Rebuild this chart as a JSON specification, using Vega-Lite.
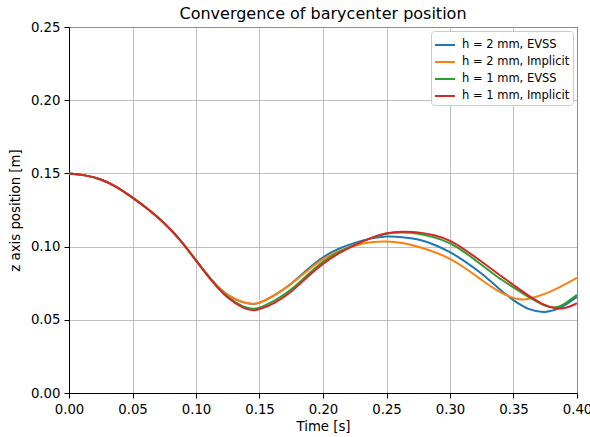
{
  "$schema": "https://vega.github.io/schema/vega-lite/v6.json",
  "width": 508,
  "height": 366,
  "autosize": {"type": "none"},
  "padding": {"left": 69, "top": 27, "right": 13, "bottom": 44},
  "title": {"text": "Convergence of barycenter position", "fontSize": 16, "fontWeight": "normal", "font": "DejaVu Sans", "color": "black", "offset": -2, "anchor": "middle"},
  "config": {
    "font": "DejaVu Sans",
    "view": {"stroke": "black", "strokeWidth": 1},
    "axis": {
      "gridColor": "#b0b0b0", "gridWidth": 0.8, "domainColor": "black", "domainWidth": 1,
      "tickColor": "black", "tickSize": 5, "tickWidth": 1, "labelColor": "black", "labelFontSize": 13.3,
      "labelFont": "DejaVu Sans", "titleFont": "DejaVu Sans", "titleFontSize": 13.3, "titleFontWeight": "normal",
      "titleColor": "black", "labelPadding": 4, "labelFlush": false
    },
    "legend": {"labelFont": "DejaVu Sans", "labelFontSize": 11.5, "labelColor": "black"}
  },
  "data": {"values": [
    {"t":0,"z":0.150,"s":"h = 2 mm, EVSS"},{"t":0.0125,"z":0.1489,"s":"h = 2 mm, EVSS"},{"t":0.025,"z":0.1463,"s":"h = 2 mm, EVSS"},{"t":0.0375,"z":0.141,"s":"h = 2 mm, EVSS"},{"t":0.05,"z":0.1335,"s":"h = 2 mm, EVSS"},{"t":0.0625,"z":0.1255,"s":"h = 2 mm, EVSS"},{"t":0.075,"z":0.1163,"s":"h = 2 mm, EVSS"},{"t":0.0875,"z":0.105,"s":"h = 2 mm, EVSS"},{"t":0.1,"z":0.0905,"s":"h = 2 mm, EVSS"},
    {"t":0.1125,"z":0.0766,"s":"h = 2 mm, EVSS"},{"t":0.125,"z":0.066,"s":"h = 2 mm, EVSS"},{"t":0.1375,"z":0.0615,"s":"h = 2 mm, EVSS"},{"t":0.145,"z":0.0606,"s":"h = 2 mm, EVSS"},{"t":0.15,"z":0.0612,"s":"h = 2 mm, EVSS"},{"t":0.1625,"z":0.0668,"s":"h = 2 mm, EVSS"},{"t":0.175,"z":0.0745,"s":"h = 2 mm, EVSS"},{"t":0.1875,"z":0.0843,"s":"h = 2 mm, EVSS"},{"t":0.2,"z":0.0932,"s":"h = 2 mm, EVSS"},{"t":0.2125,"z":0.0988,"s":"h = 2 mm, EVSS"},{"t":0.225,"z":0.1027,"s":"h = 2 mm, EVSS"},{"t":0.2375,"z":0.1057,"s":"h = 2 mm, EVSS"},{"t":0.25,"z":0.1072,"s":"h = 2 mm, EVSS"},{"t":0.2625,"z":0.1066,"s":"h = 2 mm, EVSS"},{"t":0.275,"z":0.1052,"s":"h = 2 mm, EVSS"},{"t":0.2875,"z":0.1015,"s":"h = 2 mm, EVSS"},{"t":0.3,"z":0.0966,"s":"h = 2 mm, EVSS"},{"t":0.3125,"z":0.0895,"s":"h = 2 mm, EVSS"},{"t":0.325,"z":0.0818,"s":"h = 2 mm, EVSS"},{"t":0.3375,"z":0.072,"s":"h = 2 mm, EVSS"},{"t":0.35,"z":0.063,"s":"h = 2 mm, EVSS"},{"t":0.3625,"z":0.0565,"s":"h = 2 mm, EVSS"},{"t":0.375,"z":0.0545,"s":"h = 2 mm, EVSS"},{"t":0.3875,"z":0.0578,"s":"h = 2 mm, EVSS"},{"t":0.4,"z":0.0658,"s":"h = 2 mm, EVSS"},

    {"t":0,"z":0.150,"s":"h = 2 mm, Implicit"},{"t":0.0125,"z":0.1489,"s":"h = 2 mm, Implicit"},{"t":0.025,"z":0.1463,"s":"h = 2 mm, Implicit"},{"t":0.0375,"z":0.141,"s":"h = 2 mm, Implicit"},{"t":0.05,"z":0.1335,"s":"h = 2 mm, Implicit"},{"t":0.0625,"z":0.1255,"s":"h = 2 mm, Implicit"},{"t":0.075,"z":0.1163,"s":"h = 2 mm, Implicit"},{"t":0.0875,"z":0.105,"s":"h = 2 mm, Implicit"},{"t":0.1,"z":0.0905,"s":"h = 2 mm, Implicit"},
    {"t":0.1125,"z":0.0766,"s":"h = 2 mm, Implicit"},{"t":0.125,"z":0.066,"s":"h = 2 mm, Implicit"},{"t":0.1375,"z":0.0616,"s":"h = 2 mm, Implicit"},{"t":0.145,"z":0.0607,"s":"h = 2 mm, Implicit"},{"t":0.15,"z":0.0613,"s":"h = 2 mm, Implicit"},{"t":0.1625,"z":0.067,"s":"h = 2 mm, Implicit"},{"t":0.175,"z":0.0742,"s":"h = 2 mm, Implicit"},{"t":0.1875,"z":0.0835,"s":"h = 2 mm, Implicit"},{"t":0.2,"z":0.092,"s":"h = 2 mm, Implicit"},{"t":0.2125,"z":0.0972,"s":"h = 2 mm, Implicit"},{"t":0.225,"z":0.1008,"s":"h = 2 mm, Implicit"},{"t":0.2375,"z":0.1032,"s":"h = 2 mm, Implicit"},{"t":0.25,"z":0.1038,"s":"h = 2 mm, Implicit"},{"t":0.2625,"z":0.1028,"s":"h = 2 mm, Implicit"},{"t":0.275,"z":0.1,"s":"h = 2 mm, Implicit"},{"t":0.2875,"z":0.0965,"s":"h = 2 mm, Implicit"},{"t":0.3,"z":0.092,"s":"h = 2 mm, Implicit"},{"t":0.3125,"z":0.085,"s":"h = 2 mm, Implicit"},{"t":0.325,"z":0.0772,"s":"h = 2 mm, Implicit"},{"t":0.3375,"z":0.0695,"s":"h = 2 mm, Implicit"},{"t":0.35,"z":0.0645,"s":"h = 2 mm, Implicit"},{"t":0.3575,"z":0.0636,"s":"h = 2 mm, Implicit"},{"t":0.3625,"z":0.0643,"s":"h = 2 mm, Implicit"},{"t":0.375,"z":0.0675,"s":"h = 2 mm, Implicit"},{"t":0.3875,"z":0.0728,"s":"h = 2 mm, Implicit"},{"t":0.4,"z":0.0787,"s":"h = 2 mm, Implicit"},

    {"t":0,"z":0.150,"s":"h = 1 mm, EVSS"},{"t":0.0125,"z":0.1489,"s":"h = 1 mm, EVSS"},{"t":0.025,"z":0.1463,"s":"h = 1 mm, EVSS"},{"t":0.0375,"z":0.141,"s":"h = 1 mm, EVSS"},{"t":0.05,"z":0.1335,"s":"h = 1 mm, EVSS"},{"t":0.0625,"z":0.1255,"s":"h = 1 mm, EVSS"},{"t":0.075,"z":0.1163,"s":"h = 1 mm, EVSS"},{"t":0.0875,"z":0.105,"s":"h = 1 mm, EVSS"},{"t":0.1,"z":0.0905,"s":"h = 1 mm, EVSS"},
    {"t":0.1125,"z":0.0763,"s":"h = 1 mm, EVSS"},{"t":0.125,"z":0.0648,"s":"h = 1 mm, EVSS"},{"t":0.1375,"z":0.0585,"s":"h = 1 mm, EVSS"},{"t":0.145,"z":0.0572,"s":"h = 1 mm, EVSS"},{"t":0.15,"z":0.058,"s":"h = 1 mm, EVSS"},{"t":0.1625,"z":0.063,"s":"h = 1 mm, EVSS"},{"t":0.175,"z":0.0704,"s":"h = 1 mm, EVSS"},{"t":0.1875,"z":0.0805,"s":"h = 1 mm, EVSS"},{"t":0.2,"z":0.0902,"s":"h = 1 mm, EVSS"},{"t":0.2125,"z":0.0965,"s":"h = 1 mm, EVSS"},{"t":0.225,"z":0.1015,"s":"h = 1 mm, EVSS"},{"t":0.2375,"z":0.1058,"s":"h = 1 mm, EVSS"},{"t":0.25,"z":0.1092,"s":"h = 1 mm, EVSS"},{"t":0.2625,"z":0.1098,"s":"h = 1 mm, EVSS"},{"t":0.275,"z":0.109,"s":"h = 1 mm, EVSS"},{"t":0.2875,"z":0.1065,"s":"h = 1 mm, EVSS"},{"t":0.3,"z":0.1027,"s":"h = 1 mm, EVSS"},{"t":0.3125,"z":0.0958,"s":"h = 1 mm, EVSS"},{"t":0.325,"z":0.0874,"s":"h = 1 mm, EVSS"},{"t":0.3375,"z":0.079,"s":"h = 1 mm, EVSS"},{"t":0.35,"z":0.0722,"s":"h = 1 mm, EVSS"},{"t":0.3625,"z":0.065,"s":"h = 1 mm, EVSS"},{"t":0.375,"z":0.0592,"s":"h = 1 mm, EVSS"},{"t":0.3825,"z":0.058,"s":"h = 1 mm, EVSS"},{"t":0.3875,"z":0.059,"s":"h = 1 mm, EVSS"},{"t":0.4,"z":0.067,"s":"h = 1 mm, EVSS"},

    {"t":0,"z":0.150,"s":"h = 1 mm, Implicit"},{"t":0.0125,"z":0.1489,"s":"h = 1 mm, Implicit"},{"t":0.025,"z":0.1463,"s":"h = 1 mm, Implicit"},{"t":0.0375,"z":0.141,"s":"h = 1 mm, Implicit"},{"t":0.05,"z":0.1335,"s":"h = 1 mm, Implicit"},{"t":0.0625,"z":0.1255,"s":"h = 1 mm, Implicit"},{"t":0.075,"z":0.1163,"s":"h = 1 mm, Implicit"},{"t":0.0875,"z":0.105,"s":"h = 1 mm, Implicit"},{"t":0.1,"z":0.0905,"s":"h = 1 mm, Implicit"},
    {"t":0.1125,"z":0.0762,"s":"h = 1 mm, Implicit"},{"t":0.125,"z":0.0643,"s":"h = 1 mm, Implicit"},{"t":0.1375,"z":0.0577,"s":"h = 1 mm, Implicit"},{"t":0.145,"z":0.0561,"s":"h = 1 mm, Implicit"},{"t":0.15,"z":0.057,"s":"h = 1 mm, Implicit"},{"t":0.1625,"z":0.0615,"s":"h = 1 mm, Implicit"},{"t":0.175,"z":0.0688,"s":"h = 1 mm, Implicit"},{"t":0.1875,"z":0.0792,"s":"h = 1 mm, Implicit"},{"t":0.2,"z":0.0886,"s":"h = 1 mm, Implicit"},{"t":0.2125,"z":0.0955,"s":"h = 1 mm, Implicit"},{"t":0.225,"z":0.1012,"s":"h = 1 mm, Implicit"},{"t":0.2375,"z":0.106,"s":"h = 1 mm, Implicit"},{"t":0.25,"z":0.1095,"s":"h = 1 mm, Implicit"},{"t":0.2625,"z":0.1103,"s":"h = 1 mm, Implicit"},{"t":0.275,"z":0.11,"s":"h = 1 mm, Implicit"},{"t":0.2875,"z":0.108,"s":"h = 1 mm, Implicit"},{"t":0.3,"z":0.1045,"s":"h = 1 mm, Implicit"},{"t":0.3125,"z":0.0975,"s":"h = 1 mm, Implicit"},{"t":0.325,"z":0.0897,"s":"h = 1 mm, Implicit"},{"t":0.3375,"z":0.0815,"s":"h = 1 mm, Implicit"},{"t":0.35,"z":0.0738,"s":"h = 1 mm, Implicit"},{"t":0.3625,"z":0.066,"s":"h = 1 mm, Implicit"},{"t":0.375,"z":0.0595,"s":"h = 1 mm, Implicit"},{"t":0.385,"z":0.0572,"s":"h = 1 mm, Implicit"},{"t":0.3925,"z":0.0582,"s":"h = 1 mm, Implicit"},{"t":0.4,"z":0.0613,"s":"h = 1 mm, Implicit"}
  ]},
  "mark": {"type": "line", "interpolate": "basis", "strokeWidth": 2, "clip": true},
  "encoding": {
    "x": {"field": "t", "type": "quantitative", "title": "Time [s]",
      "scale": {"domain": [0, 0.4], "nice": false},
      "axis": {"values": [0, 0.05, 0.1, 0.15, 0.2, 0.25, 0.3, 0.35, 0.4], "format": ".2f", "titlePadding": 4}},
    "y": {"field": "z", "type": "quantitative", "title": "z axis position [m]",
      "scale": {"domain": [0, 0.25], "nice": false, "zero": false},
      "axis": {"values": [0, 0.05, 0.1, 0.15, 0.2, 0.25], "format": ".2f", "titlePadding": 8}},
    "color": {"field": "s", "type": "nominal",
      "scale": {"domain": ["h = 2 mm, EVSS", "h = 2 mm, Implicit", "h = 1 mm, EVSS", "h = 1 mm, Implicit"],
                "range": ["#1f77b4", "#ff7f0e", "#2ca02c", "#d62728"]},
      "sort": null,
      "legend": {"title": null, "orient": "top-right", "offset": 4, "fillColor": "white", "strokeColor": "#cccccc",
        "cornerRadius": 3, "padding": 3, "symbolType": "stroke", "symbolSize": 400, "symbolStrokeWidth": 2,
        "rowPadding": 0, "labelOffset": 6}}
  }
}
